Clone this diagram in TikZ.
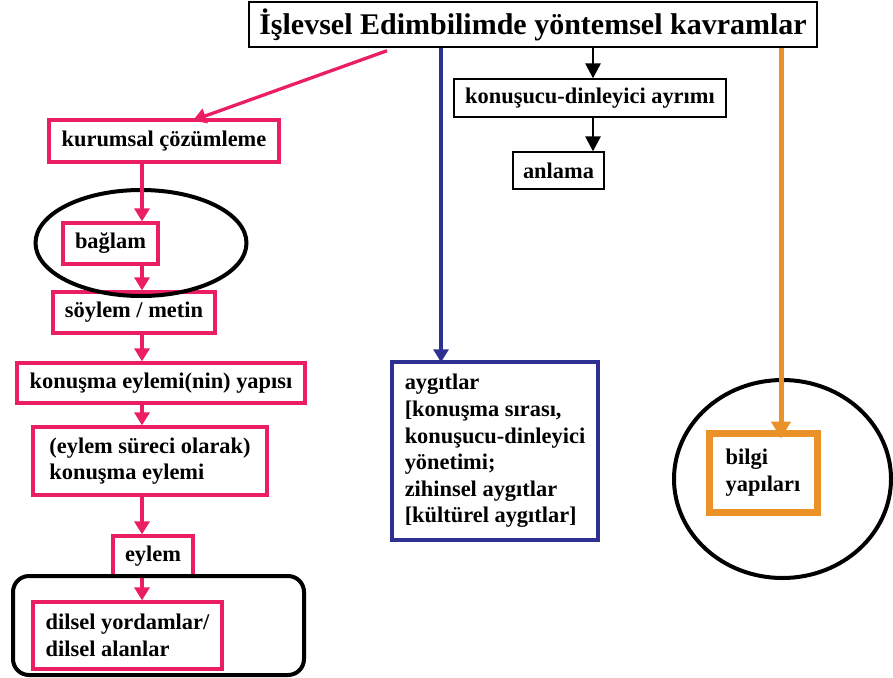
\documentclass[tikz,border=0pt]{standalone}
\usepackage{fontspec}
\setmainfont{Liberation Serif}
\usetikzlibrary{arrows.meta,shapes.geometric}
\definecolor{pinkc}{RGB}{234,30,96}
\definecolor{bluec}{RGB}{46,49,146}
\definecolor{orangec}{RGB}{234,145,40}
\tikzset{
  txt/.style={font=\fontsize{22.4}{26.6}\selectfont\bfseries, align=left, inner sep=0pt, rectangle},
  pinkbox/.style={txt, draw=pinkc, line width=3.3pt},
  blackbox/.style={txt, draw=black, line width=1.3pt},
  pinkarrow/.style={draw=pinkc, line width=3.3pt, -{Triangle[length=13pt,width=15pt]}},
  blackarrow/.style={draw=black, line width=2.8pt, -{Triangle[length=15pt,width=15pt]}},
  bluearrow/.style={draw=bluec, line width=3.3pt, -{Triangle[length=13pt,width=15pt]}},
  orangearrow/.style={draw=orangec, line width=5pt, -{Triangle[length=17pt,width=19pt]}},
  ring/.style={draw=black, line width=4pt},
}
\begin{document}
\begin{tikzpicture}[x=1pt,y=-1pt]
\useasboundingbox (0,0) rectangle (893,677);
% title
\node[blackbox, line width=1.4pt, font=\fontsize{30}{36}\selectfont\bfseries, minimum width=568pt, minimum height=45pt] (title) at (533,24.5) {İşlevsel Edimbilimde yöntemsel kavramlar};
% left column
\node[pinkbox, minimum width=230pt, minimum height=42pt] (kur) at (164,141) {kurumsal çözümleme};
\node[pinkbox, minimum width=95pt, minimum height=41pt] (bag) at (110.5,243.5) {bağlam};
\node[pinkbox, minimum width=162pt, minimum height=41pt] (soy) at (134,312.5) {söylem / metin};
\node[pinkbox, minimum width=288pt, minimum height=40pt] (kon) at (161,383) {konuşma eylemi(nin) yapısı};
\node[pinkbox, minimum width=234pt, minimum height=68pt] (sur) at (150,461) {(eylem süreci olarak)\\konuşma eylemi};
\node[pinkbox, minimum width=80pt, minimum height=40pt] (eyl) at (153,556) {eylem};
\node[pinkbox, minimum width=189pt, minimum height=67pt] (dil) at (127.5,635.5) {dilsel yordamlar/\\dilsel alanlar};
% middle column
\node[blackbox, minimum width=272pt, minimum height=38pt] (kda) at (590,98) {konuşucu-dinleyici ayrımı};
\node[blackbox, minimum width=91pt, minimum height=37pt] (anl) at (558.5,170.5) {anlama};
\node[txt, draw=bluec, line width=3.5pt, minimum width=206pt, minimum height=178pt] (ayg) at (495,451) {aygıtlar\\{[}konuşma sırası,\\konuşucu-dinleyici\\yönetimi;\\zihinsel aygıtlar\\{[}kültürel aygıtlar{]}};
% right
\node[txt, draw=orangec, line width=7pt, minimum width=108pt, minimum height=79pt] (bil) at (763,472.5) {bilgi\\yapıları};
% black rings
\node[ring, ellipse, minimum width=211pt, minimum height=106pt, inner sep=0pt] (ell) at (141,243) {};
\node[ring, ellipse, minimum width=217pt, minimum height=198pt, inner sep=0pt] (circ) at (782.5,479) {};
\node[ring, rectangle, rounded corners=16pt, minimum width=291pt, minimum height=99pt, inner sep=0pt] (rr) at (158.5,625.5) {};
% column coordinates
\coordinate (pcol) at (142,0);
\coordinate (kcol) at (593,0);
\coordinate (bcol) at (441,0);
\coordinate (ocol) at (781,0);
% arrows
\draw[pinkarrow] ([xshift=-146pt,yshift=-3pt]title.south) -- ([xshift=29pt,yshift=-2pt]kur.north);
\draw[pinkarrow] (kur.south -| pcol) -- (bag.north -| pcol);
\draw[pinkarrow] (bag.south -| pcol) -- (soy.north -| pcol);
\draw[pinkarrow] (soy.south -| pcol) -- (kon.north -| pcol);
\draw[pinkarrow] (kon.south -| pcol) -- (sur.north -| pcol);
\draw[pinkarrow] (sur.south -| pcol) -- (eyl.north -| pcol);
\draw[pinkarrow] (eyl.south -| pcol) -- (dil.north -| pcol);
\draw[blackarrow] (title.south -| kcol) -- (kda.north -| kcol);
\draw[blackarrow] (kda.south -| kcol) -- (anl.north -| kcol);
\draw[bluearrow] (title.south -| bcol) -- ([yshift=-2pt]ayg.north -| bcol);
\draw[orangearrow] (title.south -| ocol) -- ([yshift=-9pt]bil.north -| ocol);
\end{tikzpicture}
\end{document}
